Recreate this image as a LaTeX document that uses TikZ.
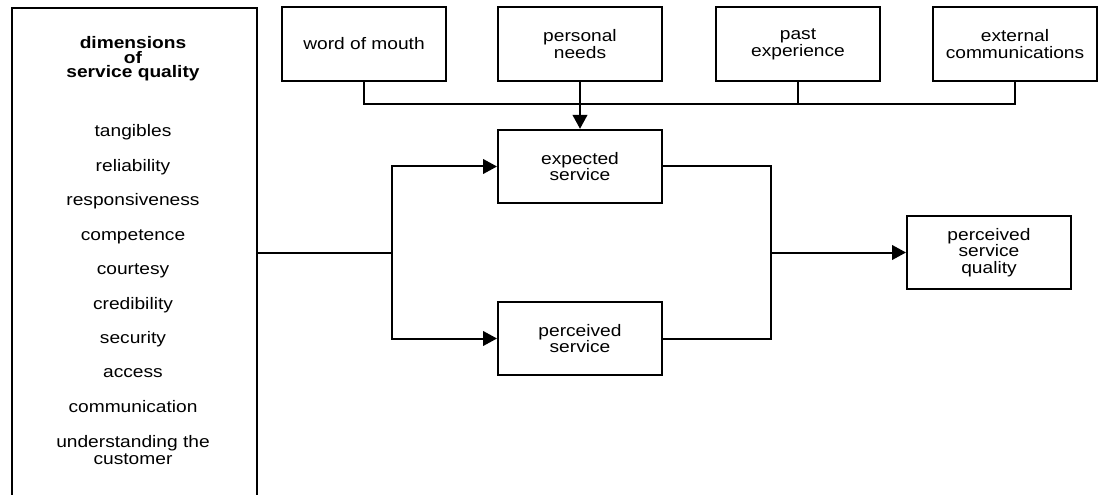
\documentclass[tikz,border=0pt]{standalone}
\usepackage{fontspec}
\setmainfont{Liberation Sans}[FakeStretch=1.15]
\usetikzlibrary{arrows.meta,positioning,calc}
\tikzset{
  box/.style={draw, line width=1.5pt, align=center, minimum width=123pt, minimum height=55pt, inner sep=2pt, font=\fontsize{12.5pt}{12.6pt}\selectfont},
  item/.style={anchor=base, align=center, inner sep=0pt, font=\fontsize{12.5pt}{12.6pt}\selectfont},
  head/.style={item, font=\bfseries\fontsize{12.5pt}{11.2pt}\selectfont},
  link/.style={line width=1.5pt},
  arrow/.style={link, -{Triangle[length=10.5pt, width=11pt]}}
}

\begin{document}
\begin{tikzpicture}[x=0.75pt, y=-0.75pt]
  \useasboundingbox (0,0) rectangle (1098,495);
  % Dimensions column
  \node (dims) [draw, line width=1.5pt, minimum width=183.75pt, minimum height=390pt, inner sep=0pt, anchor=north west] at (11,7) {};
  \node[head] (title) at (133,78) {dimensions\\of\\service quality};
  \foreach \name [count=\i from 0] in {tangibles, reliability, responsiveness, competence, courtesy, credibility, security, access, communication}
    \node[item] (dim\i) at (133,{137+34.4*\i}) {\name};
  \node[item] (dim9) at (133,464) {understanding the\\customer};
  % Sources of expectation
  \node[box] (wom) at (364,44) {word of mouth};
  \node[box] (needs) at (580,44) {personal\\needs};
  \node[box] (past) at (798,44) {past\\experience};
  \node[box] (extcom) at (1015,44) {external\\communications};
  % Service boxes
  \node[box] (expect) at (580,166.5) {expected\\service};
  \node[box] (percv) at (580,338.5) {perceived\\service};
  \node[box] (psq) at (989,252.5) {perceived\\service\\quality};
  % Bus line
  \coordinate (busL) at (364,104);
  \draw[link] (wom.south) -- (busL) -- (busL -| extcom.south) -- (extcom.south);
  \draw[link] (past.south) -- (past.south |- busL);
  \draw[arrow] (needs.south) -- (expect.north);
  % Split and merge
  \coordinate (split) at (392,252.5);
  \coordinate (merge) at (771,252.5);
  \draw[link] (split -| dims.east) -- (split);
  \draw[arrow] (split) |- (expect.west);
  \draw[arrow] (split) |- (percv.west);
  \draw[link] (expect.east) -| (merge);
  \draw[link] (percv.east) -| (merge);
  \draw[arrow] (merge) -- (psq.west);
\end{tikzpicture}
\end{document}
